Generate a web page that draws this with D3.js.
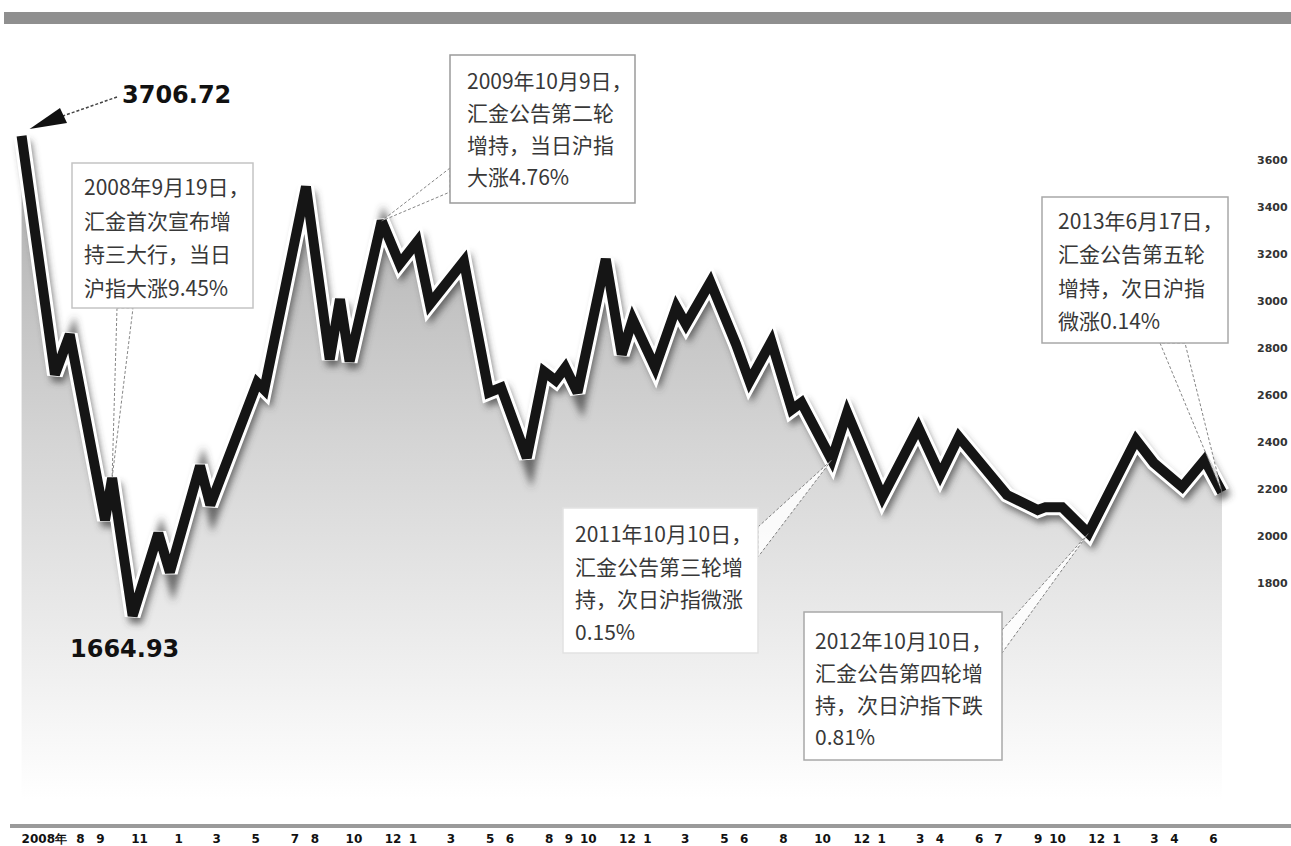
<!DOCTYPE html>
<html>
<head>
<meta charset="utf-8">
<script src="https://cdn.jsdelivr.net/npm/d3@7"></script>
<style>
  body { margin: 0; background: #fff; }
  svg { display: block; }
</style>
</head>
<body>
<script>
// 上证指数走势 2008-2013
var dates = ["2008-05-02","2008-06-23","2008-07-16","2008-09-09","2008-09-20","2008-10-22",
  "2008-12-01","2008-12-19","2009-02-04","2009-02-20","2009-05-04","2009-05-15","2009-07-19",
  "2009-08-25","2009-09-10","2009-09-25","2009-11-14","2009-12-12","2010-01-08","2010-01-28",
  "2010-03-22","2010-04-30","2010-05-19","2010-06-28","2010-07-25","2010-08-12","2010-08-27",
  "2010-09-15","2010-10-29","2010-11-23","2010-12-10","2011-01-14","2011-02-16","2011-03-03",
  "2011-04-10","2011-05-20","2011-06-10","2011-07-14","2011-08-15","2011-08-30","2011-10-16",
  "2011-11-09","2012-01-03","2012-02-28","2012-04-02","2012-05-01","2012-07-15","2012-09-01",
  "2012-09-13","2012-10-09","2012-11-19","2013-02-01","2013-03-01","2013-04-14","2013-05-19",
  "2013-06-15"];
var closeValues = [3706.72,2691,2862,2072,2251,1664.93,
  2016,1850,2303,2136,2657,2627,3491,
  2756,3012,2747,3345,3162,3256,2991,
  3174,2615,2636,2337,2704,2666,2721,
  2615,3183,2777,2926,2721,2978,2905,
  3085,2820,2662,2832,2542,2572,2328,
  2529,2170,2465,2264,2426,2179,2115,
  2127,2127,2016,2414,2315,2213,2328,
  2191];

var tickDates = ["2008-08","2008-09","2008-11",
  "2009-01","2009-03","2009-05","2009-07","2009-08","2009-10","2009-12",
  "2010-01","2010-03","2010-05","2010-06","2010-08","2010-09","2010-10","2010-12",
  "2011-01","2011-03","2011-05","2011-06","2011-08","2011-10","2011-12",
  "2012-01","2012-03","2012-04","2012-06","2012-07","2012-09","2012-10","2012-12",
  "2013-01","2013-03","2013-04","2013-06"];
var yearLabel = "2008年";
var yTicks = [3600,3400,3200,3000,2800,2600,2400,2200,2000,1800];

var maxLabel = "3706.72", minLabel = "1664.93";

// annotation texts, and which data point each one points at
var noteLines = [
  ["2008年9月19日，","汇金首次宣布增","持三大行，当日","沪指大涨9.45%"],
  ["2009年10月9日，","汇金公告第二轮","增持，当日沪指","大涨4.76%"],
  ["2011年10月10日，","汇金公告第三轮增","持，次日沪指微涨","0.15%"],
  ["2012年10月10日，","汇金公告第四轮增","持，次日沪指下跌","0.81%"],
  ["2013年6月17日，","汇金公告第五轮","增持，次日沪指","微涨0.14%"]
];
var noteTargets = ["2008-09-20","2009-11-14","2011-10-16","2012-11-19","2013-06-15"];

var parseDay = d3.timeParse("%Y-%m-%d");
var parseMonth = d3.timeParse("%Y-%m");
var data = dates.map(function(d, i){ return {day: parseDay(d), close: closeValues[i]}; });

var width = 1291, height = 846;
var svg = d3.select("body").append("svg")
    .attr("width", width).attr("height", height);

var x = d3.scaleTime()
    .domain([parseMonth("2008-08"), parseMonth("2013-06")])
    .range([80, 1213]);
var y = d3.scaleLinear()
    .domain([1800, 3600])
    .range([584, 161]);

var defs = svg.append("defs");
var grad = defs.append("linearGradient").attr("id", "fade")
    .attr("gradientUnits", "userSpaceOnUse")
    .attr("x1", 0).attr("y1", 140).attr("x2", 0).attr("y2", 800);
grad.append("stop").attr("offset", "0%").attr("stop-color", "#adadad");
grad.append("stop").attr("offset", "45%").attr("stop-color", "#d4d4d4");
grad.append("stop").attr("offset", "100%").attr("stop-color", "#ffffff");
var blur = defs.append("filter").attr("id", "blur")
    .attr("x", "-5%").attr("y", "-5%").attr("width", "110%").attr("height", "110%");
blur.append("feGaussianBlur").attr("stdDeviation", 3.5);
var soft = defs.append("filter").attr("id", "soft");
soft.append("feGaussianBlur").attr("stdDeviation", 1.2);

// top band
svg.append("rect").attr("x", 6).attr("y", 15).attr("width", width).attr("height", 4)
    .attr("fill", "#d6d6d6").attr("filter", "url(#soft)");
svg.append("rect").attr("x", 4).attr("y", 12).attr("width", width).attr("height", 12)
    .attr("fill", "#8f8f8f");

// area under line
var area = d3.area()
    .x(function(d){ return x(d.day); })
    .y0(800)
    .y1(function(d){ return y(d.close); });
svg.append("path").attr("d", area(data)).attr("fill", "url(#fade)");

var line = d3.line()
    .x(function(d){ return x(d.day); })
    .y(function(d){ return y(d.close); });

// shadow, white halo, black line
svg.append("path").attr("d", line(data))
    .attr("transform", "translate(3,6)")
    .attr("fill", "none").attr("stroke", "#444").attr("stroke-opacity", 0.75)
    .attr("stroke-width", 13).attr("stroke-linejoin", "miter")
    .attr("filter", "url(#blur)");
svg.append("path").attr("d", line(data))
    .attr("fill", "none").attr("stroke", "#fff")
    .attr("stroke-width", 16).attr("stroke-linejoin", "miter").attr("stroke-miterlimit", 3);
svg.append("path").attr("d", line(data))
    .attr("fill", "none").attr("stroke", "#151515")
    .attr("stroke-width", 10).attr("stroke-linejoin", "miter").attr("stroke-miterlimit", 3);

// right value labels
svg.append("g").selectAll("text").data(yTicks).enter().append("text")
    .attr("x", 1257).attr("y", function(d){ return y(d) + 3; })
    .attr("font-family", "DejaVu Sans").attr("font-weight", "bold")
    .attr("font-size", 11).attr("fill", "#333")
    .text(function(d){ return d; });

// bottom axis
svg.append("rect").attr("x", 10).attr("y", 824).attr("width", width).attr("height", 4)
    .attr("fill", "#9a9a9a");
var xAxis = d3.axisBottom(x)
    .tickValues(tickDates.map(parseMonth))
    .tickSize(0).tickPadding(0)
    .tickFormat(function(d){ return d.getMonth() + 1; });
var axisG = svg.append("g").attr("transform", "translate(0,834)").call(xAxis);
axisG.select(".domain").remove();
axisG.selectAll("text")
    .attr("font-family", "DejaVu Sans").attr("font-weight", "bold")
    .attr("font-size", 12).attr("fill", "#111");
axisG.append("text")
    .attr("x", x(parseMonth("2008-08")) - 13).attr("y", 0).attr("dy", "0.71em")
    .attr("text-anchor", "end")
    .attr("font-family", "DejaVu Sans").attr("font-weight", "bold")
    .attr("font-size", 12).attr("fill", "#111")
    .text(yearLabel);

// max / min labels
var first = data[0];
svg.append("text").attr("x", 122).attr("y", 103)
    .attr("font-family", "DejaVu Sans").attr("font-weight", "bold")
    .attr("font-size", 24).attr("fill", "#111").text(maxLabel);
svg.append("line")
    .attr("x1", 117).attr("y1", 97).attr("x2", 60).attr("y2", 117)
    .attr("stroke", "#444").attr("stroke-width", 1.5).attr("stroke-dasharray", "3,2");
var tipX = x(first.day) + 8, tipY = y(first.close) - 7;
svg.append("path")
    .attr("d", "M" + tipX + "," + tipY + "L60,108L67,123Z")
    .attr("fill", "#111");
svg.append("text").attr("x", 70).attr("y", 657)
    .attr("font-family", "DejaVu Sans").attr("font-weight", "bold")
    .attr("font-size", 24).attr("fill", "#111").text(minLabel);

// annotation boxes
var boxes = [
  {x: 72, y: 163, w: 181, h: 145, tx: 84, ty: 195, lh: 33.5, base: [[117,308],[133,308]], stroke: "#c4c4c4"},
  {x: 450, y: 55, w: 185, h: 148, tx: 467, ty: 89, lh: 32, base: [[450,168],[450,192]], stroke: "#9a9a9a"},
  {x: 563, y: 508, w: 195, h: 145, tx: 575, ty: 542, lh: 32.5, base: [[758,527],[758,557]], stroke: "#e2e2e2"},
  {x: 804, y: 612, w: 198, h: 148, tx: 815, ty: 649, lh: 32, base: [[1002,630],[1002,653]], stroke: "#a8a8a8"},
  {x: 1042, y: 197, w: 186, h: 146, tx: 1058, ty: 229, lh: 33.3, base: [[1160,343],[1185,343]], stroke: "#a8a8a8"}
];
var byDay = {};
data.forEach(function(d){ byDay[d3.timeFormat("%Y-%m-%d")(d.day)] = d; });

boxes.forEach(function(b, i){
  var t = byDay[noteTargets[i]];
  var px = x(t.day), py = y(t.close);
  var g = svg.append("g");
  g.append("path")
    .attr("d", "M" + b.base[0][0] + "," + b.base[0][1] + "L" + px + "," + py +
               "L" + b.base[1][0] + "," + b.base[1][1] + "Z")
    .attr("fill", "#fff").attr("fill-opacity", 0.85)
    .attr("stroke", "#666").attr("stroke-width", 0.8).attr("stroke-dasharray", "3,2");
  g.append("rect").attr("x", b.x).attr("y", b.y).attr("width", b.w).attr("height", b.h)
    .attr("fill", "#fff").attr("stroke", b.stroke).attr("stroke-width", 1.5);
  g.selectAll("text.note").data(noteLines[i]).enter().append("text")
    .attr("class", "note")
    .attr("x", b.tx).attr("y", function(d, j){ return b.ty + j * b.lh; })
    .attr("font-family", "Noto Sans CJK SC").attr("font-size", 21)
    .attr("fill", "#383838")
    .text(function(d){ return d; });
});
</script>
</body>
</html>
